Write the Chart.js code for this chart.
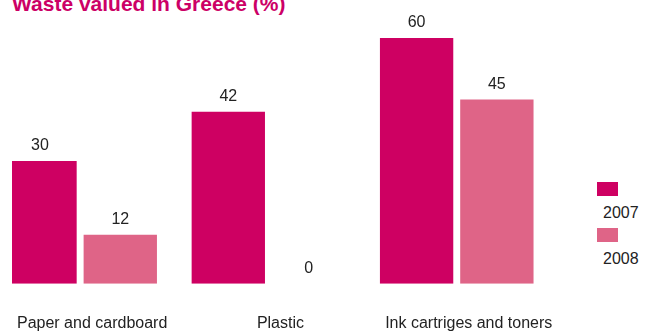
<!DOCTYPE html>
<html lang="en">
<head>
    <meta charset="UTF-8">
    <title>Waste valued in Greece</title>
    <script src="https://cdn.jsdelivr.net/npm/chart.js"></script>
    <style>
        html, body { margin: 0; padding: 0; background: #fff; overflow: hidden; }
        body { width: 649px; height: 333px; position: relative; font-family: "Liberation Sans", Arial, sans-serif; }
        .titulo {
            position: absolute; left: 12px; top: -7px;
            font-size: 21px; line-height: 21px; font-weight: bold; color: #cc0066;
            white-space: nowrap;
        }
        /* chart window, cut at the left edge */
        .recorte { position: absolute; left: 12px; top: 0; width: 570px; height: 333px; overflow: hidden; }
        .grafico { position: absolute; left: -34px; top: 0; width: 591px; height: 369px; }
        .legenda { position: absolute; left: 597px; top: 182px; font-size: 16px; color: #222; }
        .legenda-item { position: relative; height: 46px; }
        .legenda-cor { position: absolute; left: 0; top: 0; width: 21px; height: 14px; }
        .legenda-texto { position: absolute; left: 6px; top: 22px; line-height: 18px; }
    </style>
</head>
<body>
    <div class="titulo">Waste valued in Greece (%)</div>
    <div class="recorte">
        <div class="grafico"><canvas id="grafico"></canvas></div>
    </div>
    <div class="legenda" id="legenda"></div>

<script>
    var categorias = ['Paper and cardboard', 'Plastic', 'Ink cartriges and toners']
    var anos = ['2007', '2008']
    var valores2007 = [30, 42, 60]
    var valores2008 = [12, 0, 45]
    var cores = ['#ce0062', '#df6487']

    // numbers above each bar
    const rotulosBarras = {
        id: 'rotulosBarras',
        afterDatasetsDraw(chart) {
            const ctx = chart.ctx
            ctx.save()
            ctx.font = '16px "Liberation Sans", Arial, sans-serif'
            ctx.fillStyle = '#222'
            ctx.textAlign = 'center'
            ctx.textBaseline = 'middle'
            chart.data.datasets.forEach((ds, i) => {
                chart.getDatasetMeta(i).data.forEach((bar, j) => {
                    ctx.fillText(ds.data[j], bar.x, bar.y - 15)
                })
            })
            ctx.restore()
        }
    }

    const grafico = new Chart(document.getElementById('grafico'), {
        type: 'bar',
        data: {
            labels: categorias,
            datasets: [
                { label: anos[0], data: valores2007, backgroundColor: cores[0] },
                { label: anos[1], data: valores2008, backgroundColor: cores[1] }
            ]
        },
        options: {
            responsive: true,
            maintainAspectRatio: false,
            animation: false,
            categoryPercentage: 0.8526,
            barPercentage: 0.9136,
            layout: { padding: { top: 38, bottom: 6, left: 0, right: 0 } },
            plugins: {
                legend: { display: false },
                tooltip: { enabled: false }
            },
            scales: {
                x: {
                    grid: { display: false, drawTicks: false },
                    border: { display: false },
                    ticks: {
                        padding: 30,
                        labelOffset: 12,
                        color: '#222',
                        font: { size: 16, family: '"Liberation Sans", Arial, sans-serif' },
                        maxRotation: 0,
                        autoSkip: false
                    }
                },
                y: { display: false, min: 0, max: 60 }
            }
        },
        plugins: [rotulosBarras]
    })

    // legend on the right: colour box with the year under it
    var legenda = document.getElementById('legenda')
    anos.forEach((ano, i) => {
        legenda.innerHTML +=
        `<div class="legenda-item"><div class="legenda-cor" style="background:${cores[i]}"></div><div class="legenda-texto">${ano}</div></div>`
    })
</script>
</body>
</html>
